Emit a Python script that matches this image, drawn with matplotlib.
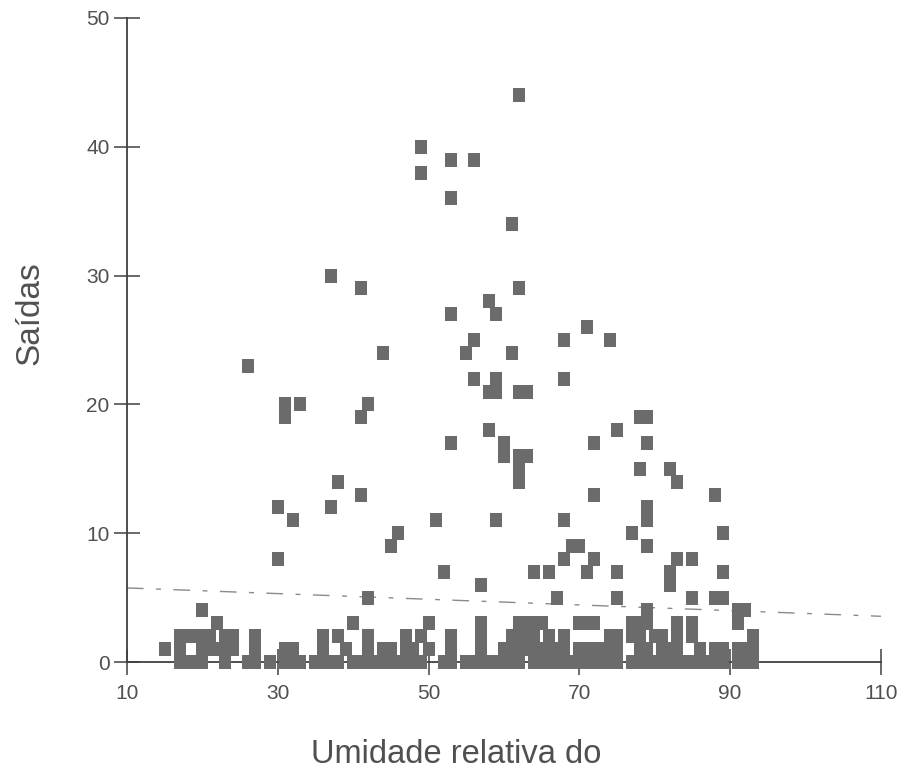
import matplotlib
matplotlib.use('Agg')
import matplotlib.pyplot as plt

# bottom band: x -> list of y values (small counts, stacked squares)
low_x = [15, 17, 18, 19, 20, 21, 22, 23, 24, 26, 27, 29, 31, 32, 33, 35, 36, 37, 38, 39,
         40, 41, 42, 43, 44, 45, 46, 47, 48, 49, 50, 52, 53, 55, 56, 57, 58, 59, 60, 61,
         62, 63, 64, 65, 66, 67, 68, 69, 70, 71, 72, 73, 74, 75, 77, 78, 79, 80, 81, 82,
         83, 84, 85, 86, 87, 88, 89, 91, 92, 93]
low_y = [[1], [0, 1, 2], [0, 2], [0, 2], [0, 1, 2, 4], [1, 2], [1, 3], [0, 1, 2], [1, 2], [0],
         [0, 1, 2], [0], [0, 1], [0, 1], [0], [0], [0, 1, 2], [0], [0, 2], [1],
         [0, 3], [0], [0, 1, 2], [0], [0, 1], [0, 1], [0], [0, 1, 2], [0, 1], [0, 2],
         [1, 3], [0], [0, 1, 2], [0], [0], [0, 1, 2, 3], [0], [0], [0, 1], [0, 1, 2],
         [0, 1, 2, 3], [1, 2, 3], [0, 1, 2, 3], [0, 1, 3], [0, 1, 2], [0, 1], [0, 1, 2], [0], [0, 1, 3], [0, 1, 3],
         [0, 1, 3], [0, 1], [0, 1, 2], [0, 1, 2], [0, 2, 3], [0, 1, 2, 3], [0, 1, 3, 4], [0, 2], [0, 1, 2], [0, 1],
         [0, 1, 2, 3], [0], [0, 2, 3], [0, 1], [0], [0, 1], [0, 1], [0, 1, 3, 4], [0, 1, 4], [0, 1, 2]]

# the scattered higher values
high_x = [26, 30, 30, 31, 31, 32, 33, 37, 37, 38, 41, 41, 42, 41, 42, 44, 45, 46,
          49, 49, 51, 52, 53, 53, 53, 53, 56, 55, 56, 56, 57, 58, 59, 58, 59, 58, 59, 59,
          60, 60, 61, 61, 62, 62, 62, 63, 62, 62, 62, 63, 64, 66, 67, 68, 68, 68, 68,
          69, 70, 71, 72, 72, 72, 71, 74, 75, 75, 75, 77, 78, 79, 78, 79, 79, 79, 79,
          82, 83, 82, 82, 83, 85, 85, 88, 89, 89, 88, 89]
high_y = [23, 12, 8, 20, 19, 11, 20, 30, 12, 14, 29, 19, 20, 13, 5, 24, 9, 10,
          40, 38, 11, 7, 39, 36, 27, 17, 39, 24, 25, 22, 6, 28, 27, 18, 11, 21, 22, 21,
          17, 16, 34, 24, 44, 29, 21, 21, 16, 15, 14, 16, 7, 7, 5, 25, 22, 11, 8,
          9, 9, 26, 17, 13, 8, 7, 25, 18, 7, 5, 10, 19, 19, 15, 17, 12, 11, 9,
          15, 14, 7, 6, 8, 8, 5, 13, 10, 7, 5, 5]

fit_x = [10, 110]
fit_y = [5.75, 3.55]

xs, ys = [], []
for x, col in zip(low_x, low_y):
    for y in col:
        xs.append(x)
        ys.append(y)
xs += high_x
ys += high_y

fig = plt.figure(figsize=(9.03, 7.78), dpi=100)
ax = fig.add_axes([0.1406, 0.1491, 0.8350, 0.8278])

rect = [(-0.42, -0.5), (0.42, -0.5), (0.42, 0.5), (-0.42, 0.5), (-0.42, -0.5)]
ax.plot(xs, ys, linestyle='none', marker=rect, markersize=9.5,
        markerfacecolor='#6b6b6b', markeredgewidth=0, zorder=3, clip_on=False)

ax.plot(fit_x, fit_y, color='#8a8a8a', lw=1.0, dashes=(12, 9, 3.5, 9), zorder=2)

ax.set_xlim(10, 110)
ax.set_ylim(0, 50)
ax.set_xticks([10, 30, 50, 70, 90, 110])
ax.set_yticks([0, 10, 20, 30, 40, 50])

for s in ['top', 'right']:
    ax.spines[s].set_visible(False)
for s in ['left', 'bottom']:
    ax.spines[s].set_color('#404040')
    ax.spines[s].set_linewidth(1.3)

ax.tick_params(axis='both', direction='inout', length=19, width=1.1,
               color='#404040', labelcolor='#505050', labelsize=15)
ax.tick_params(axis='y', pad=3)
ax.tick_params(axis='x', pad=6)
for lab in ax.get_xticklabels() + ax.get_yticklabels():
    lab.set_fontfamily('Liberation Sans')

ax.set_xlabel('Umidade relativa do', fontsize=23.5, color='#505050',
              fontfamily='Liberation Sans')
ax.set_ylabel('Saídas', fontsize=24, color='#505050',
              fontfamily='Liberation Sans')
ax.xaxis.set_label_coords(0.436, -0.120)
ax.yaxis.set_label_coords(-0.108, 0.542)

fig.savefig('out.png', dpi=100)
